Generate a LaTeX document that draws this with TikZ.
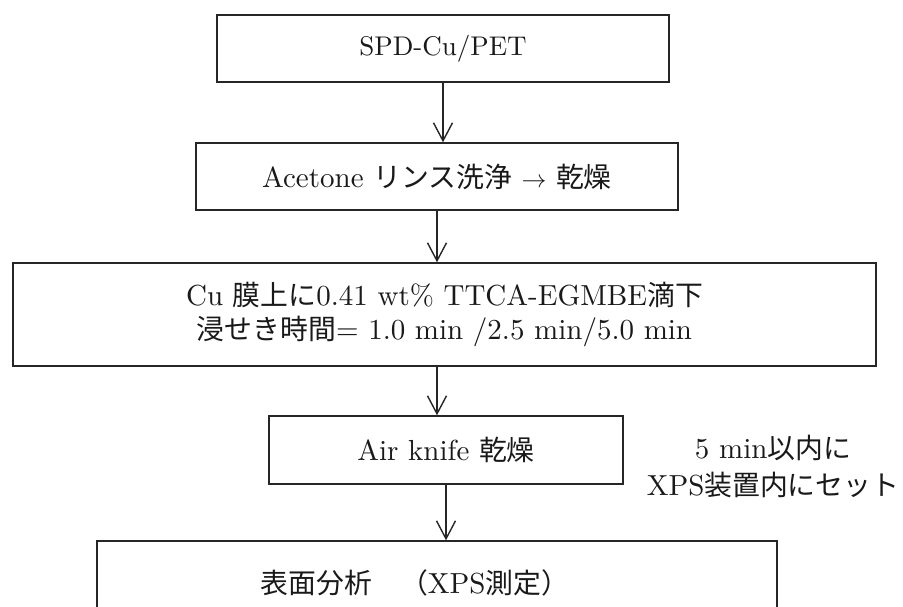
\documentclass[tikz,border=0pt]{standalone}
\usepackage{fontspec}
\usepackage{tikz}
\usetikzlibrary{arrows.meta}
\setmainfont{lmroman10-regular.otf}
\newfontfamily\jpfont{Noto Sans CJK JP}[Scale=0.96]
\tikzset{
  stepbox/.style={rectangle, draw=black!85, line width=1.4pt, inner sep=0pt,
                  align=center, text=black!90, font=\fontsize{29}{34}\selectfont},
  flowarrow/.style={-{Straight Barb[length=18pt, width=19pt]}, draw=black!85,
                    line width=1.4pt}}

\begin{document}
\begin{tikzpicture}[x=1pt, y=-1pt]
  \useasboundingbox (0,0) rectangle (903,606);
  \clip (0,0) rectangle (903,606);
  % steps, top to bottom
  \node[stepbox, line width=2.8pt, minimum width=452pt, minimum height=67pt,
        font=\fontsize{27}{32}\selectfont] (spd) at (443,48.5) {SPD-Cu/PET};
  \node[stepbox, minimum width=482pt, minimum height=67pt] (rinse) at (437,176.5)
    {Acetone {\jpfont リンス洗浄} $\rightarrow$ {\jpfont 乾燥}};
  \node[stepbox, minimum width=863pt, minimum height=103pt] (drop) at (444.5,314.5)
    {Cu {\jpfont 膜上に}0.41 wt\% TTCA-EGMBE{\jpfont 滴下}\\
     {\jpfont 浸せき時間}= 1.0 min /2.5 min/5.0 min};
  \node[stepbox, minimum width=354pt, minimum height=68pt] (knife) at (446,450) {Air knife {\jpfont 乾燥}};
  % last box runs off the bottom edge, its text sits left of centre
  \node[stepbox, minimum width=680pt, minimum height=98pt] (xps) at (437,590) {};
  \node[text=black!90, font=\fontsize{29}{34}\selectfont] (xpstext) at (415,583)
    {{\jpfont 表面分析　（}XPS{\jpfont 測定）}};
  \foreach \a/\b in {spd/rinse, rinse/drop, knife/xps}{
    \draw[flowarrow] (\a.south) -- (\a.south |- \b.north);}
  \draw[flowarrow] (drop.south -| rinse.south) -- (knife.north -| rinse.south);
  % remark on the right
  \node[align=center, text=black!90, font=\fontsize{29}{37}\selectfont] (remark) at (773,466)
    {5 min{\jpfont 以内に}\\XPS{\jpfont 装置内にセット}};
\end{tikzpicture}
\end{document}
